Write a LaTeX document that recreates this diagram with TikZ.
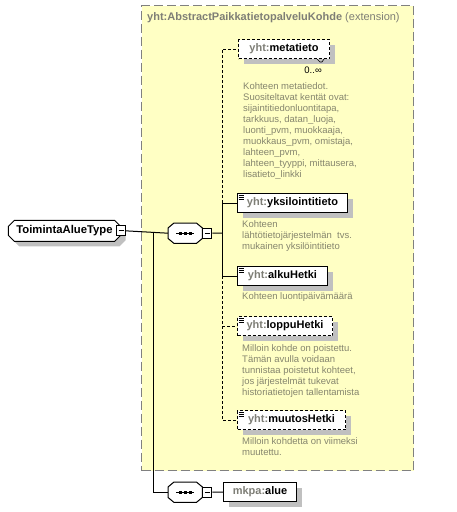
\documentclass[tikz,border=0pt]{standalone}
\usepackage{fontspec}
\setmainfont{Liberation Sans}
\usetikzlibrary{positioning,shapes.misc,shadows}
\definecolor{extfill}{HTML}{FFFFC4}
\definecolor{extline}{HTML}{808080}
\definecolor{shade}{HTML}{C0C0C0}
\definecolor{prefix}{HTML}{7E7E76}
\definecolor{doctext}{HTML}{86866E}

% three short lines in the top left corner of an element
\newcommand{\docicon}[1]{%
  \foreach \dy in {2,4,6}
    \draw[line width=0.6pt] ([xshift=1.5pt,yshift=-\dy pt]#1.north west) -- ++(5pt,0);}
\newcommand{\pfx}[1]{{\color{prefix}#1}}
% octagon outline around a sequence node
\newcommand{\octpath}[1]{([xshift=6pt]#1.north west) -- ([xshift=-6pt]#1.north east)
  -- ([yshift=-5pt]#1.north east) -- ([yshift=5pt]#1.south east)
  -- ([xshift=-6pt]#1.south east) -- ([xshift=6pt]#1.south west)
  -- ([yshift=5pt]#1.south west) -- ([yshift=-5pt]#1.north west) -- cycle}

\begin{document}
\begin{tikzpicture}[
  x=1pt,y=-1pt,
  elem/.style={draw,fill=white,line width=1pt,minimum height=19pt,inner sep=0pt,
               anchor=north west,font=\fontsize{11}{13}\selectfont\bfseries,
               general shadow={fill=shade,shadow xshift=5pt,shadow yshift=-5pt}},
  optelem/.style={elem,dash pattern=on 3pt off 2pt},
  desc/.style={anchor=north west,align=left,inner sep=0pt,text=doctext,
               font=\fontsize{9.5}{11}\selectfont},
  minus/.style={draw,fill=white,line width=1pt,minimum width=9pt,minimum height=10pt,
                inner sep=0pt,
                path picture={\draw ([xshift=2pt]path picture bounding box.west)
                                 -- ([xshift=-2pt]path picture bounding box.east);}},
  seqbox/.style={minimum width=34pt,minimum height=20pt,inner sep=0pt,anchor=north west},
  conn/.style={line width=1pt},
  optconn/.style={conn,dash pattern=on 3pt off 2pt}
]
\path[use as bounding box] (0,0) rectangle (456,512);

% extension frame
\node[draw=extline,fill=extfill,line width=1pt,dash pattern=on 9pt off 4pt,
      minimum width=272pt,minimum height=465pt,anchor=north west] (ext) at (141,5) {};
\node[anchor=west,inner sep=0pt,text=prefix,font=\fontsize{11}{13}\selectfont] (exttitle)
  at (147,18) {\textbf{yht:AbstractPaikkatietopalveluKohde} (extension)};

% complex type and its sequence
\node[chamfered rectangle,chamfered rectangle xsep=3pt,chamfered rectangle ysep=3pt,
      draw,fill=white,line width=1pt,
      minimum height=21pt,inner xsep=5pt,inner ysep=0pt,anchor=north west,
      font=\fontsize{11.3}{13}\selectfont\bfseries,
      general shadow={fill=shade,shadow xshift=5pt,shadow yshift=-5pt}]
  (type) at (11,223) {ToimintaAlueType\hspace{9pt}};
\node[minus] (typeminus) at (type.east) {};

\node[seqbox] (seq) at (168,223) {};
\node[seqbox] (seqb) at (168,482) {};
\foreach \s in {seq,seqb}{
  \fill[shade,xshift=5pt,yshift=-5pt] \octpath{\s};
  \draw[fill=white,line width=1pt] \octpath{\s};
  \draw[line width=1pt] ([xshift=-9pt]\s.center) -- ([xshift=9pt]\s.center);
  \foreach \dx in {-5,0,5}
    \fill ([xshift=\dx pt]\s.center) ++(-1.5pt,-1.5pt) rectangle ++(3pt,3pt);
}
\node[minus,right=0pt of seq] (seqminus) {};
\node[minus,right=0pt of seqb] (seqbminus) {};
\coordinate (spine) at (222,233);
\coordinate (fork) at (153,233);

% elements of the sequence
\node[optelem,minimum width=91pt] (meta) at (238,39) {\pfx{yht:}metatieto};
\node[anchor=north east,inner sep=0pt,font=\fontsize{9.5}{11}\selectfont] (metaocc)
  at ([xshift=-8pt,yshift=-8pt]meta.south east) {0..∞};
\draw[line width=0.6pt] ([xshift=-13pt]meta.south east) -- ++(3pt,-3pt) -- ++(2pt,0) -- ++(2pt,3pt);
\node[desc] (metadoc) at (243,82) {Kohteen metatiedot.\\Suositeltavat kentät ovat:\\
  sijaintitiedonluontitapa,\\tarkkuus, datan\_luoja,\\luonti\_pvm, muokkaaja,\\
  muokkaus\_pvm, omistaja,\\lahteen\_pvm,\\lahteen\_tyyppi, mittausera,\\lisatieto\_linkki};

\node[elem,minimum width=110pt] (yks) at (237,193) {\pfx{yht:}yksilointitieto};
\docicon{yks}
\node[desc] (yksdoc) at (242,220) {Kohteen\\lähtötietojärjestelmän\ \ tvs.\\mukainen yksilöintitieto};

\node[elem,minimum width=90pt] (alku) at (237,266) {\pfx{yht:}alkuHetki};
\docicon{alku}
\node[desc] (alkudoc) at (242,292) {Kohteen luontipäivämäärä};

\node[optelem,minimum width=95pt] (loppu) at (237,316) {\pfx{yht:}loppuHetki};
\docicon{loppu}
\node[desc] (loppudoc) at (242,344) {Milloin kohde on poistettu.\\Tämän avulla voidaan\\
  tunnistaa poistetut kohteet,\\jos järjestelmät tukevat\\historiatietojen tallentamista};

\node[optelem,minimum width=108pt] (muutos) at (237,410) {\pfx{yht:}muutosHetki};
\docicon{muutos}
\node[desc] (muutosdoc) at (242,437) {Milloin kohdetta on viimeksi\\muutettu.};

% element below the frame
\node[elem,minimum width=73pt] (alue) at (223,482) {\pfx{mkpa:}alue};

% connectors
\draw[conn] (typeminus.east) -- (seq.west);
\draw[conn] (fork) |- (seqb.west);
\draw[conn] (seqminus.east) -- (spine);
\draw[conn] (spine) |- (yks.west);
\draw[conn] (spine) |- (alku.west);
\draw[optconn] (yks.west -| spine) |- (meta.west);
\draw[optconn] (alku.west -| spine) |- (loppu.west);
\draw[optconn] (loppu.west -| spine) |- (muutos.west);
\draw[conn] (seqbminus.east) -- (alue.west);
\end{tikzpicture}
\end{document}
